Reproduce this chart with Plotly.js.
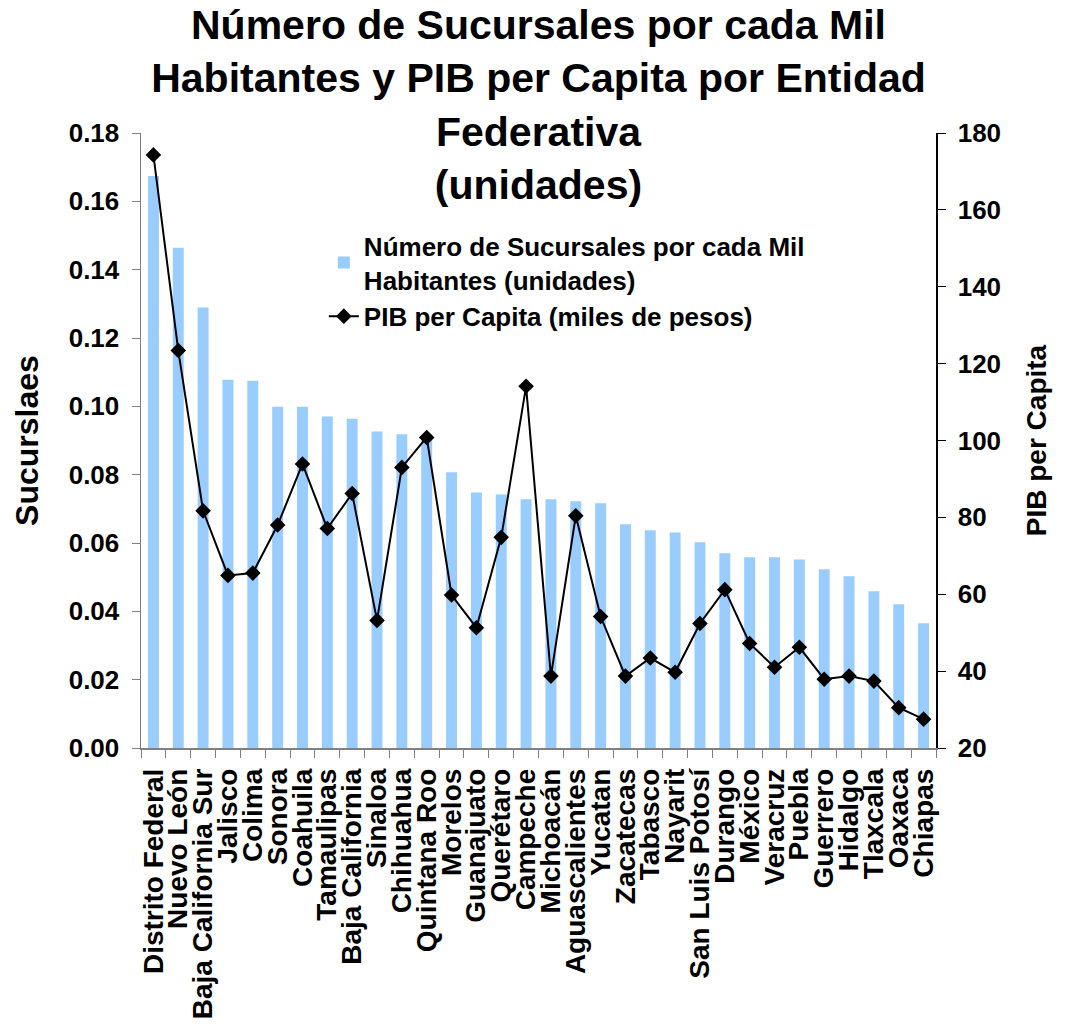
<!DOCTYPE html>
<html><head><meta charset="utf-8">
<script src="https://cdn.plot.ly/plotly-3.0.1.min.js"></script>
<style>body{margin:0;background:#fff}#chart{width:1067px;height:1027px}</style>
</head><body><div id="chart"></div>
<script>
const states = ["Distrito Federal","Nuevo León","Baja California Sur","Jalisco","Colima","Sonora","Coahuila","Tamaulipas","Baja California","Sinaloa","Chihuahua","Quintana Roo","Morelos","Guanajuato","Querétaro","Campeche","Michoacán","Aguascalientes","Yucatan","Zacatecas","Tabasco","Nayarit","San Luis Potosí","Durango","México","Veracruz","Puebla","Guerrero","Hidalgo","Tlaxcala","Oaxaca","Chiapas"];
const sucursales = [0.1674,0.1464,0.1289,0.1078,0.1075,0.0999,0.0999,0.0970,0.0964,0.0926,0.0918,0.0909,0.0807,0.0748,0.0742,0.0728,0.0728,0.0722,0.0716,0.0655,0.0637,0.0631,0.0602,0.0570,0.0558,0.0558,0.0552,0.0523,0.0503,0.0459,0.0421,0.0365];
const pib = [174.3,123.4,81.7,64.9,65.5,78.0,93.9,77.1,86.2,53.2,93.0,100.8,59.8,51.3,74.8,114.1,38.7,80.4,54.2,38.7,43.4,39.7,52.4,61.2,47.2,41.0,46.2,37.9,38.7,37.4,30.5,27.5];
const leftTicks = [0,0.02,0.04,0.06,0.08,0.10,0.12,0.14,0.16,0.18];
const rightTicks = [20,40,60,80,100,120,140,160,180];
const titleLines = ["Número de Sucursales por cada Mil","Habitantes y PIB per Capita por Entidad","Federativa","(unidades)"];

const FONT = "Liberation Sans, Arial, sans-serif";

const traces = [
  {
    type: "bar", x: states, y: sucursales,
    name: "Número de Sucursales por cada Mil<br>Habitantes (unidades)",
    marker: {color: "#99CCFF"}
  },
  {
    type: "scatter", mode: "lines+markers", x: states, y: pib, yaxis: "y2",
    name: "PIB per Capita (miles de pesos)",
    line: {color: "#000000", width: 2},
    marker: {symbol: "diamond", size: 12, color: "#000000"}
  }
];

const layout = {
  width: 1067, height: 1027,
  paper_bgcolor: "#ffffff", plot_bgcolor: "#ffffff",
  font: {family: FONT, color: "#000", weight: "bold"},
  margin: {l: 141, r: 131, t: 133, b: 279},
  bargap: 0.56,
  showlegend: true,
  title: {
    text: titleLines.join("<br>"),
    font: {family: FONT, size: 41, weight: "bold", color: "#000"},
    x: 0.5, xanchor: "center", xref: "paper",
    y: 0.962, yanchor: "top", yref: "container"
  },
  legend: {
    x: 0.23, y: 0.855, xanchor: "left", yanchor: "top",
    bgcolor: "rgba(0,0,0,0)",
    font: {family: FONT, size: 26, weight: "bold", color: "#000"},
    tracegroupgap: 0
  },
  xaxis: {
    type: "category",
    tickmode: "array", tickvals: states, ticktext: states,
    tickangle: -90,
    tickfont: {family: FONT, size: 28, weight: "bold", color: "#000"},
    ticks: "outside", ticklen: 8, tickcolor: "#808080",
    ticklabelstandoff: 8,
    tickson: "boundaries",
    showline: true, linecolor: "#808080", linewidth: 1.5,
    showgrid: false, zeroline: false,
    range: [-0.5, 31.5]
  },
  yaxis: {
    range: [0, 0.18],
    tickvals: leftTicks,
    tickformat: ".2f",
    tickfont: {family: FONT, size: 26, weight: "bold", color: "#000"},
    ticks: "outside", ticklen: 8, tickcolor: "#808080",
    ticklabelstandoff: 7,
    showline: true, linecolor: "#808080", linewidth: 1.5,
    showgrid: false, zeroline: false,
    title: {text: "Sucurslaes", font: {family: FONT, size: 32, weight: "bold", color: "#000"}, standoff: 20}
  },
  yaxis2: {
    overlaying: "y", side: "right",
    range: [20, 180],
    tickvals: rightTicks,
    tickfont: {family: FONT, size: 26, weight: "bold", color: "#000"},
    ticks: "outside", ticklen: 8, tickcolor: "#000",
    ticklabelstandoff: 7,
    showline: true, linecolor: "#000", linewidth: 1.5,
    showgrid: false, zeroline: false,
    title: {text: "PIB per Capita", font: {family: FONT, size: 28, weight: "bold", color: "#000"}, standoff: 26}
  }
};

Plotly.newPlot("chart", traces, layout, {displayModeBar: false, staticPlot: true});
</script>
</body></html>
